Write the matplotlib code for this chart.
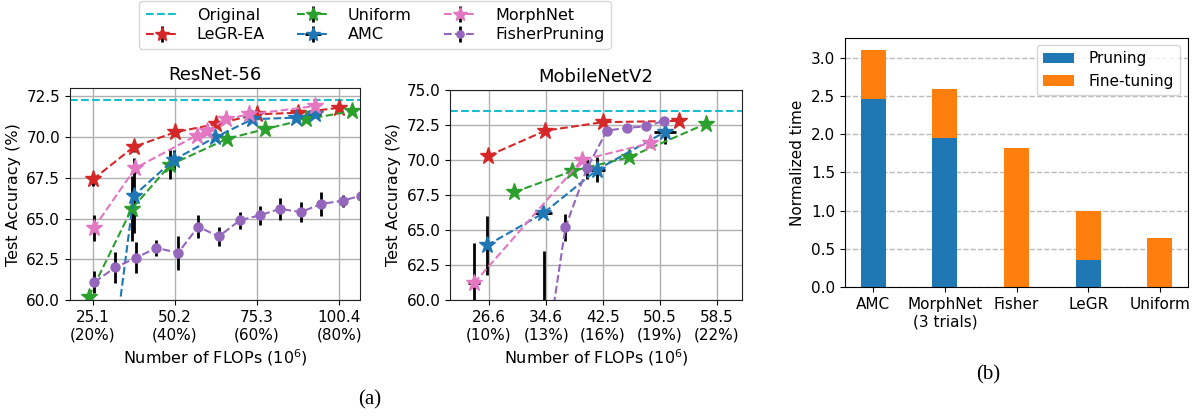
import numpy as np
import matplotlib
matplotlib.use("Agg")
from matplotlib import pyplot as plt

# ResNet-56 (CIFAR-100)
rn_original = 72.3
rn_legr_x = [25.1, 37.6, 50.2, 62.7, 75.3, 87.8, 100.4]
rn_legr_y = [67.4, 69.4, 70.3, 70.8, 71.4, 71.5, 71.8]
rn_legr_err = [0.4, 0.3, 0.2, 0.2, 0.2, 0.2, 0.15]
rn_unif_x = [23.8, 37.0, 48.8, 66.2, 77.9, 90.3, 104.5]
rn_unif_y = [60.2, 65.6, 68.3, 69.9, 70.5, 71.1, 71.6]
rn_unif_err = [0.2, 2.0, 0.9, 0.2, 0.2, 0.2, 0.2]
rn_amc_x = [25.1, 37.6, 49.8, 62.6, 73.9, 87.2, 93.0]
rn_amc_y = [47.0, 66.4, 68.6, 70.0, 71.1, 71.2, 71.45]
rn_amc_err = [1.0, 2.3, 0.6, 0.2, 0.2, 0.2, 0.2]
rn_amc_xerr = [0, 0, 0, 0, 0, 0, 2.0]
rn_morph_x = [25.3, 38.1, 56.8, 60.1, 65.7, 72.8, 93.0]
rn_morph_y = [64.4, 68.1, 70.1, 70.4, 71.1, 71.4, 71.9]
rn_morph_err = [0.8, 0.3, 0.2, 0.2, 0.2, 0.2, 0.2]
rn_fisher_x = [25.6, 31.9, 38.4, 44.5, 51.2, 57.3, 63.6, 70.1, 76.2, 82.3, 88.7, 95.0, 101.5, 107.0]
rn_fisher_y = [61.1, 62.0, 62.6, 63.2, 62.9, 64.5, 63.9, 64.9, 65.2, 65.6, 65.4, 65.9, 66.1, 66.4]
rn_fisher_err = [0.67, 0.93, 0.96, 0.5, 1.03, 0.72, 0.6, 0.51, 0.6, 0.69, 0.6, 0.74, 0.36, 0.3]
rn_ticks = [25.1, 50.2, 75.3, 100.4]
rn_ticklabels = ["25.1\n(20%)", "50.2\n(40%)", "75.3\n(60%)", "100.4\n(80%)"]

# MobileNetV2 (ImageNet)
mb_original = 73.5
mb_legr_x = [26.5, 34.5, 42.5, 53.2]
mb_legr_y = [70.3, 72.1, 72.7, 72.8]
mb_legr_err = [0.15, 0.15, 0.15, 0.3]
mb_unif_x = [30.1, 38.2, 46.2, 57.0]
mb_unif_y = [67.7, 69.2, 70.2, 72.6]
mb_unif_err = [0.1, 0.1, 0.1, 0.1]
mb_amc_x = [26.3, 34.2, 41.7, 51.2]
mb_amc_y = [63.9, 66.2, 69.3, 72.0]
mb_amc_err = [2.1, 0.2, 0.9, 0.85]
mb_amc_xerr = [0, 1.2, 1.1, 1.5]
mb_morph_x = [24.5, 39.6, 49.1]
mb_morph_y = [61.2, 70.0, 71.2]
mb_morph_err = [2.9, 0.2, 0.2]
mb_morph_xerr = [0.9, 0, 0]
mb_fisher_x = [34.3, 37.3, 40.3, 43.1, 45.9, 48.5, 51.1]
mb_fisher_y = [55.0, 65.2, 69.4, 72.1, 72.3, 72.4, 72.8]
mb_fisher_err = [8.5, 0.95, 0.75, 0.1, 0.1, 0.1, 0.1]
mb_ticks = [26.6, 34.6, 42.5, 50.5, 58.5]
mb_ticklabels = ["26.6\n(10%)", "34.6\n(13%)", "42.5\n(16%)", "50.5\n(19%)", "58.5\n(22%)"]

# Cost comparison
methods = ["AMC", "MorphNet\n(3 trials)", "Fisher", "LeGR", "Uniform"]
pruning_time = [2.46, 1.95, 0.0, 0.35, 0.0]
finetune_time = [0.64, 0.64, 1.82, 0.65, 0.65]

C_ORIG = "#17becf"
C_LEGR = "#d62728"
C_UNIF = "#2ca02c"
C_AMC = "#1f77b4"
C_MORPH = "#e377c2"
C_FISH = "#9467bd"

fig = plt.figure(figsize=(11.94, 4.16), dpi=100)
ax1 = fig.add_axes([0.0586, 0.2788, 0.2429, 0.509])
ax2 = fig.add_axes([0.3769, 0.2788, 0.2446, 0.5048])
ax3 = fig.add_axes([0.7077, 0.3094, 0.2873, 0.600])

ekw = dict(ecolor="k", elinewidth=2, capsize=0, lw=1.5, ls="--")


def draw_panel(ax, orig, series, ticks, ticklabels, xlim, ylim, title):
    h = [ax.axhline(orig, color=C_ORIG, ls="--", lw=1.5, label="Original")]
    for x, y, yerr, xerr, color, marker, ms, label in series:
        c = ax.errorbar(x, y, yerr=yerr, xerr=xerr, color=color, marker=marker,
                        ms=ms, label=label, **ekw)
        h.append(c)
    ax.set_xlim(*xlim)
    ax.set_ylim(*ylim)
    ax.set_xticks(ticks)
    ax.set_xticklabels(ticklabels)
    ax.set_yticks(np.arange(60, ylim[1] + 0.01, 2.5))
    ax.grid(True, color="#b0b0b0", lw=1)
    ax.set_axisbelow(True)
    ax.tick_params(labelsize=11)
    ax.set_title(title, fontsize=13)
    ax.set_xlabel("Number of FLOPs ($10^6$)", fontsize=11.5)
    ax.set_ylabel("Test Accuracy (%)", fontsize=11.5)
    for s in ax.spines.values():
        s.set_color("#222222")
    return h


rn_series = [
    (rn_legr_x, rn_legr_y, rn_legr_err, None, C_LEGR, "*", 12.5, "LeGR-EA"),
    (rn_unif_x, rn_unif_y, rn_unif_err, None, C_UNIF, "*", 12.5, "Uniform"),
    (rn_amc_x, rn_amc_y, rn_amc_err, rn_amc_xerr, C_AMC, "*", 12.5, "AMC"),
    (rn_morph_x, rn_morph_y, rn_morph_err, None, C_MORPH, "*", 12.5, "MorphNet"),
    (rn_fisher_x, rn_fisher_y, rn_fisher_err, None, C_FISH, "o", 6.5, "FisherPruning"),
]
handles = draw_panel(ax1, rn_original, rn_series, rn_ticks, rn_ticklabels,
                     (18.1, 106.8), (60, 73), "ResNet-56")

mb_series = [
    (mb_legr_x, mb_legr_y, mb_legr_err, None, C_LEGR, "*", 12.5, "LeGR-EA"),
    (mb_unif_x, mb_unif_y, mb_unif_err, None, C_UNIF, "*", 12.5, "Uniform"),
    (mb_amc_x, mb_amc_y, mb_amc_err, mb_amc_xerr, C_AMC, "*", 12.5, "AMC"),
    (mb_morph_x, mb_morph_y, mb_morph_err, mb_morph_xerr, C_MORPH, "*", 12.5, "MorphNet"),
    (mb_fisher_x, mb_fisher_y, mb_fisher_err, None, C_FISH, "o", 6.5, "FisherPruning"),
]
draw_panel(ax2, mb_original, mb_series, mb_ticks, mb_ticklabels,
           (21.15, 62.0), (60, 75), "MobileNetV2")

# legend order column-wise: Original, LeGR-EA | Uniform, AMC | MorphNet, FisherPruning
fig.legend(handles=handles, loc="upper center", bbox_to_anchor=(0.314, 1.005),
           ncol=3, fontsize=11.5, columnspacing=2.0, handletextpad=1.2,
           borderaxespad=0.2, labelspacing=0.3, markerscale=0.8)

# (b) normalized time
xb = np.arange(len(methods))
ax3.bar(xb, pruning_time, width=0.35, color=C_AMC, label="Pruning")
ax3.bar(xb, finetune_time, width=0.35, bottom=pruning_time, color="#ff7f0e",
        label="Fine-tuning")
ax3.set_xticks(xb)
ax3.set_xticklabels(methods, fontsize=11)
ax3.set_yticks(np.arange(0, 3.01, 0.5))
ax3.tick_params(labelsize=11)
ax3.set_ylim(0, 3.26)
ax3.set_ylabel("Normalized time", fontsize=11)
ax3.yaxis.grid(True, ls="--", color="#bbbbbb", lw=1)
ax3.set_axisbelow(True)
ax3.legend(loc="upper right", fontsize=11, handletextpad=1.0)

fig.text(370 / 1194, 1 - 400 / 416, "(a)", family="Liberation Serif", fontsize=15,
         ha="center", va="center")
fig.text(988 / 1194, 1 - 375 / 416, "(b)", family="Liberation Serif", fontsize=15,
         ha="center", va="center")

fig.savefig("out.png", dpi=100)
